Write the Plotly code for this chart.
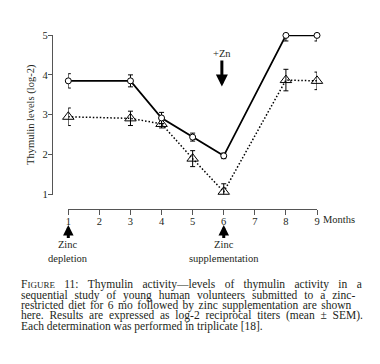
import plotly.graph_objects as go

months = [1, 3, 4, 5, 6, 8, 9]
circle_vals = [3.85, 3.85, 2.92, 2.44, 1.97, 4.99, 4.99]
circle_err = [0.18, 0.15, 0.14, 0.10, 0.07, 0.14, 0.14]
tri_vals = [2.95, 2.91, 2.77, 1.90, 1.07, 3.87, 3.85]
tri_err = [0.22, 0.18, 0.10, 0.20, 0.20, 0.27, 0.22]
x_ticks = [1, 2, 3, 4, 5, 6, 7, 8, 9]
y_ticks = [1, 2, 3, 4, 5]
caption_lines = [
    "F<span style='font-size:9px'>IGURE</span> 11: Thymulin activity\u2014levels of thymulin activity in a",
    "sequential study of young human volunteers submitted to a zinc-",
    "restricted diet for 6 mo followed by zinc supplementation are shown",
    "here. Results are expressed as log-2 reciprocal titers (mean \u00b1 SEM).",
    "Each determination was performed in triplicate [18].",
]
caption_spacing = [6.5, 4.1, 1.6, 2.9, 0.0]

FONT = "Liberation Serif"
INK = "#231f20"

# pixel helpers for layout (paper coordinates)
L, R, T, B = 52, 63, 34.5, 155
W, H = 380 - L - R, 364 - T - B
def px(x):
    return (x - L) / W
def py(y):
    return (364 - B - y) / H

fig = go.Figure()
fig.add_trace(go.Scatter(
    x=months, y=tri_vals, mode="lines+markers",
    line=dict(color="black", width=1.5, dash="1.5px,2px"),
    marker=dict(symbol="triangle-up-open", size=10, color="black", line=dict(width=1)),
    error_y=dict(type="data", array=tri_err, color="black", thickness=1, width=2.5),
    cliponaxis=False, showlegend=False,
))
fig.add_trace(go.Scatter(
    x=months, y=circle_vals, mode="lines+markers",
    line=dict(color="black", width=1.8),
    marker=dict(symbol="circle", size=6, color="white", line=dict(width=1, color="black")),
    error_y=dict(type="data", array=circle_err, color="black", thickness=1, width=2.5),
    cliponaxis=False, showlegend=False,
))

fig.update_layout(
    width=380, height=364,
    margin=dict(l=L, r=R, t=T, b=B, pad=0, autoexpand=False),
    paper_bgcolor="white", plot_bgcolor="white",
    font=dict(family=FONT, size=10.5, color=INK),
    xaxis=dict(
        domain=[px(68.3), 1], range=[1, 9], anchor="free", position=0, automargin=False,
        tickvals=x_ticks, ticks="outside", ticklen=5, tickwidth=1, tickcolor="#555",
        ticklabelstandoff=-3,
        showline=True, linecolor="#555", linewidth=1.2, showgrid=False, zeroline=False,
        tickfont=dict(family=FONT, size=10.5, color=INK),
    ),
    yaxis=dict(
        domain=[py(194.5), 1], range=[1, 5], anchor="free", position=0, automargin=False,
        tickvals=y_ticks, ticks="outside", ticklen=4, tickwidth=1, tickcolor="#555",
        ticklabelstandoff=-2,
        showline=True, linecolor="#555", linewidth=1.2, showgrid=False, zeroline=False,
        tickfont=dict(family=FONT, size=10.5, color=INK),
        title=dict(text="Thymulin levels (log-2)", font=dict(family=FONT, size=10.5, color=INK), standoff=4),
    ),
)

# +Zn arrow
fig.add_annotation(x=5.94, y=3.71, xref="x", yref="y", text="+Zn", showarrow=True,
                   ax=0, ay=-33, arrowhead=2, arrowsize=0.8, arrowwidth=3, arrowcolor="black",
                   font=dict(family=FONT, size=10.5, color=INK))
# Zinc arrows below axis
fig.add_annotation(x=1, y=py(225), xref="x", yref="paper", text="Zinc<br>depletion", showarrow=True,
                   ax=0, ay=27, arrowhead=2, arrowsize=0.7, arrowwidth=3, arrowcolor="black",
                   font=dict(family=FONT, size=10.5, color=INK))
fig.add_annotation(x=6, y=py(225), xref="x", yref="paper", text="Zinc<br>supplementation", showarrow=True,
                   ax=0, ay=27, arrowhead=2, arrowsize=0.7, arrowwidth=3, arrowcolor="black",
                   font=dict(family=FONT, size=10.5, color=INK))
fig.add_annotation(x=9, y=py(220), xref="x", yref="paper", text="Months", showarrow=False,
                   xanchor="left", yanchor="middle", xshift=4, font=dict(family=FONT, size=10.5, color=INK))

line_y = [285, 295.6, 305.8, 316.1, 326.6]
for txt, yy, sp in zip(caption_lines, line_y, caption_spacing):
    fig.add_annotation(x=px(19), y=py(yy), xref="paper", yref="paper",
                       text=f"<span style='word-spacing:{sp}px'>{txt}</span>",
                       showarrow=False, xanchor="left", yanchor="middle", align="left",
                       font=dict(family=FONT, size=11.5, color=INK))

fig.write_html("out.html", config={"displayModeBar": False},
               post_script="document.body.style.margin='0';")
